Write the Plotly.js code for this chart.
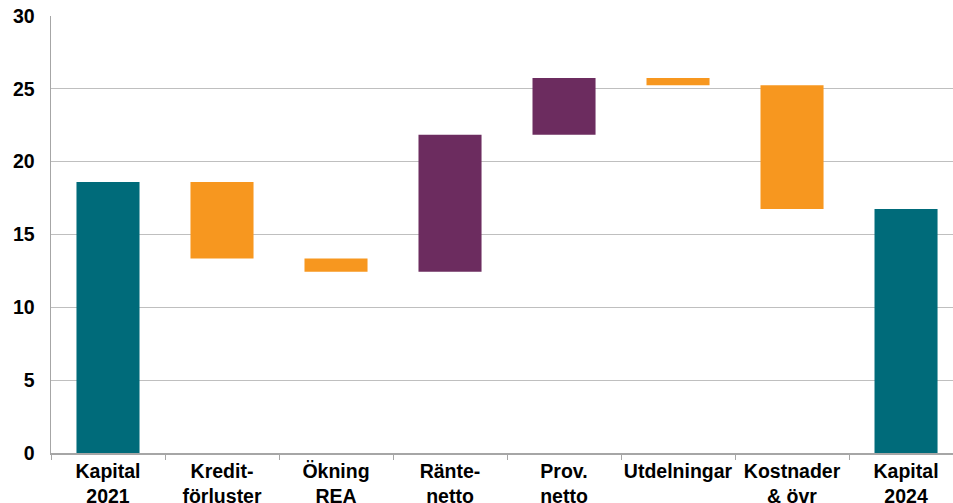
<!DOCTYPE html>
<html>
<head>
<meta charset="utf-8">
<script src="https://cdn.plot.ly/plotly-3.0.1.min.js"></script>
<style>
  html, body { margin: 0; padding: 0; background: #ffffff; }
  #chart { width: 953px; height: 503px; }
</style>
</head>
<body>
<div id="chart"></div>
<script>
// Capital bridge 2021 -> 2024 (percentage points)
const categories = [
  "Kapital<br>2021",
  "Kredit-<br>förluster",
  "Ökning<br>REA",
  "Ränte-<br>netto",
  "Prov.<br>netto",
  "Utdelningar",
  "Kostnader<br>& övr",
  "Kapital<br>2024"
];
const steps = [18.6, -5.25, -0.9, 9.4, 3.9, -0.5, -8.5, 16.75];
const measures = ["absolute", "relative", "relative", "relative", "relative", "relative", "relative", "total"];
const yTicks = [0, 5, 10, 15, 20, 25, 30];

const teal = "#006B7A";
const purple = "#6C2C5F";
const orange = "#F7971F";
const grid = "#BFBFBF";
const labelFont = { family: "Liberation Sans, Arial, sans-serif", size: 19.5, color: "#000000", weight: "bold" };

const trace = {
  type: "waterfall",
  x: categories,
  y: steps,
  measure: measures,
  increasing: { marker: { color: purple } },
  decreasing: { marker: { color: orange } },
  totals: { marker: { color: teal } },
  connector: { visible: false },
  textinfo: "none",
  hoverinfo: "x+y"
};

const layout = {
  width: 953,
  height: 503,
  margin: { l: 51, r: 0, t: 16, b: 50 },
  paper_bgcolor: "#ffffff",
  plot_bgcolor: "#ffffff",
  showlegend: false,
  waterfallgap: 0.447,
  font: labelFont,
  xaxis: {
    type: "category",
    range: [-0.5, 7.412],
    showgrid: false,
    showline: true,
    linecolor: "#A6A6A6",
    linewidth: 1.5,
    ticks: "outside",
    tickson: "boundaries",
    ticklen: 5,
    tickcolor: "#A6A6A6",
    tickwidth: 1,
    tickangle: 0,
    tickfont: labelFont,
    fixedrange: true
  },
  yaxis: {
    range: [0, 30],
    tickvals: yTicks,
    ticktext: yTicks.map(String),
    showgrid: true,
    gridcolor: grid,
    gridwidth: 1,
    zeroline: false,
    showline: true,
    linecolor: "#A6A6A6",
    linewidth: 1.5,
    ticks: "",
    ticklabelstandoff: 11,
    tickfont: labelFont,
    fixedrange: true
  }
};

Plotly.newPlot("chart", [trace], layout, { displayModeBar: false, staticPlot: true });
</script>
</body>
</html>
